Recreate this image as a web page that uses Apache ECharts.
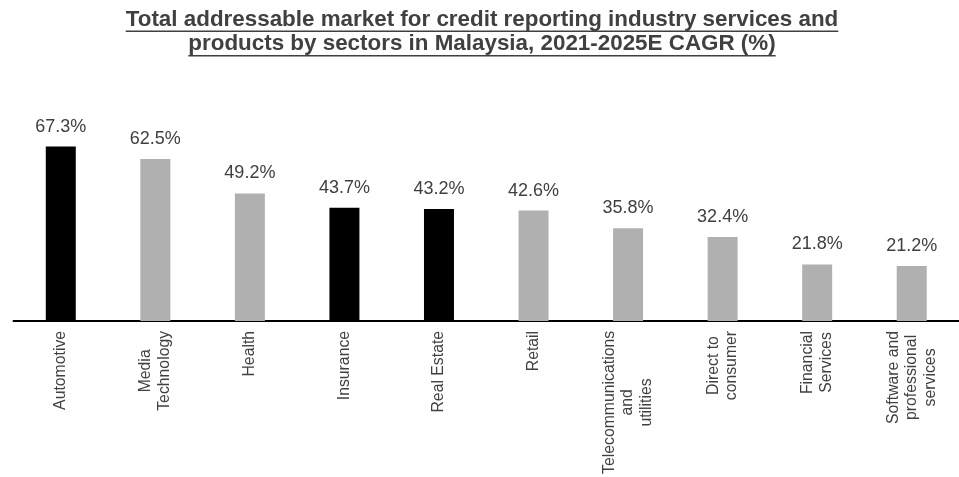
<!DOCTYPE html>
<html>
<head>
<meta charset="utf-8">
<script src="https://cdn.jsdelivr.net/npm/echarts@6/dist/echarts.min.js"></script>
<style>
html,body{margin:0;padding:0;background:#fff;}
#chart{width:959px;height:477px;}
</style>
</head>
<body>
<div id="chart"></div>
<script>
const titleLines = [
  'Total addressable market for credit reporting industry services and',
  'products by sectors in Malaysia, 2021-2025E CAGR (%)'
];
const categories = [
  'Automotive',
  'Media\nTechnology',
  'Health',
  'Insurance',
  'Real Estate',
  'Retail',
  'Telecommunications\nand\nutilities',
  'Direct to\nconsumer',
  'Financial\nServices',
  'Software and\nprofessional\nservices'
];
const values = [67.3, 62.5, 49.2, 43.7, 43.2, 42.6, 35.8, 32.4, 21.8, 21.2];
const highlighted = [true, false, false, true, true, false, false, false, false, false];

const FONT = '"Liberation Sans", Arial, sans-serif';
const TEXT = '#404040';
const TITLE_SIZE = 22.4;
const titleCenterX = 482;
const baselines = [27, 51.5];

const ctx = document.createElement('canvas').getContext('2d');
ctx.font = 'bold ' + TITLE_SIZE + 'px ' + FONT;

const graphics = [];
titleLines.forEach((t, i) => {
  const w = ctx.measureText(t).width;
  graphics.push({
    type: 'text',
    x: titleCenterX,
    y: baselines[i] - 7.5,
    style: {
      text: t,
      fill: TEXT,
      font: 'bold ' + TITLE_SIZE + 'px ' + FONT,
      textAlign: 'center',
      textVerticalAlign: 'middle'
    }
  });
  graphics.push({
    type: 'rect',
    shape: { x: titleCenterX - w / 2, y: baselines[i] + 3.5, width: w, height: 1.6 },
    style: { fill: TEXT }
  });
});

const chart = echarts.init(document.getElementById('chart'), null, { renderer: 'canvas' });
chart.setOption({
  animation: false,
  backgroundColor: '#ffffff',
  graphic: graphics,
  grid: { left: 13.5, width: 948, top: 113.7, bottom: 155.3, containLabel: false },
  xAxis: {
    type: 'category',
    data: categories,
    axisLine: { show: true, lineStyle: { color: '#000', width: 2 } },
    axisTick: { show: false },
    axisLabel: {
      interval: 0,
      rotate: 90,
      margin: 10,
      color: TEXT,
      fontFamily: FONT,
      fontSize: 15.8,
      lineHeight: 18.5,
      formatter: function (v) {
        return v.split('\n').map(l => '{c|' + l + '}').join('\n');
      },
      rich: {
        c: { align: 'center', fontSize: 15.8, lineHeight: 18.5, color: TEXT, fontFamily: FONT }
      }
    }
  },
  yAxis: {
    type: 'value',
    min: 0,
    max: 80,
    show: false,
    splitLine: { show: false }
  },
  series: [{
    type: 'bar',
    barWidth: 30,
    data: values.map((v, i) => ({
      value: v,
      itemStyle: { color: highlighted[i] ? '#000000' : '#b0b0b0' }
    })),
    label: {
      show: true,
      position: 'top',
      distance: 11,
      color: TEXT,
      fontFamily: FONT,
      fontSize: 18,
      formatter: p => p.value.toFixed(1) + '%'
    }
  }]
});
</script>
</body>
</html>
